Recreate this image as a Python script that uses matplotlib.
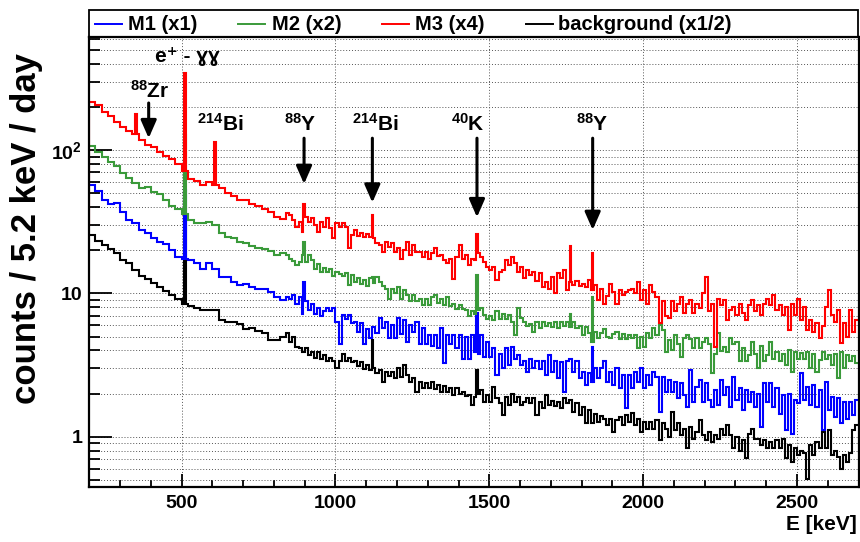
import numpy as np
import matplotlib
matplotlib.use('Agg')
import matplotlib.pyplot as plt
from matplotlib.patches import Rectangle
from matplotlib.lines import Line2D
from matplotlib.ticker import FixedLocator, FixedFormatter, NullFormatter

plt.rcParams['font.family'] = ['Liberation Sans', 'DejaVu Sans']
plt.rcParams['font.weight'] = 'bold'
plt.rcParams['mathtext.default'] = 'regular'

# ---------------- data (counts / 5.2 keV / day, already scaled) ----------------
E_min, E_split, E_max = 200, 840, 2700
w_lo, w_hi = 20, 10          # read-out bin widths below / above E_split (keV)

# 200-840 keV, 20 keV steps
m1_lo = [57, 52, 45, 42, 42.5, 37, 32.5, 31, 27.7, 26.5, 24.2, 22.9, 22.1, 20, 18, 17.5,
         17.1, 16.2, 14.9, 16.2, 14.9, 13.1, 13.1, 12.1, 11.4, 11.7, 11.1, 10.8, 10.8, 10.3, 9.5, 9.0]
m2_lo = [107, 97, 90, 83, 77, 69, 64, 59, 54, 55, 51, 49, 45, 41, 39, 36,
         32.5, 31, 31, 31.6, 30, 26.5, 24.8, 24.2, 22.9, 22.3, 21.4, 20.9, 20.4, 19.8, 18.5, 19]
m3_lo = [217, 206, 185, 173, 158, 144, 136, 129, 117, 108, 105, 97, 91, 87, 80, 72,
         63, 61, 57, 60, 57, 54, 50, 48, 45, 45, 42, 41, 39, 37, 34, 33]
bg_lo = [25.5, 23.3, 21.7, 20.3, 19, 17.1, 16.2, 14.5, 13.3, 12.7, 11.9, 11.0, 10.4, 9.7, 9.2, 8.5,
         8.2, 7.9, 7.7, 7.6, 7.7, 6.5, 6.3, 6.3, 6.1, 5.6, 5.7, 5.5, 5.3, 4.7, 4.7, 5.0]

# 840-2700 keV, 10 keV steps
m1_hi = [9.5, 9.1, 9.7, 8.4, 9.4, 7.2, 8.8, 7.6, 8.5, 7.2,
         7.9, 7.0, 7.5, 7.9, 7.5, 7.9, 6.35, 4.4, 7.1, 6.6,
         7.1, 6.25, 6.35, 5.4, 6.2, 4.45, 5.6, 4.85, 5.8, 5.3,
         6.7, 5.7, 6.35, 4.85, 6.0, 4.85, 6.7, 5.2, 6.5, 4.6,
         6.0, 5.4, 6.35, 4.4, 5.7, 4.45, 5.1, 4.3, 5.1, 4.15,
         5.7, 3.25, 5.1, 4.4, 5.1, 4.15, 5.1, 3.5, 5.0, 3.5,
         5.1, 3.9, 3.8,
         5.1, 3.6, 4.6, 3.6, 4.15, 2.7, 3.8, 3.0, 4.15, 3.15,
         4.2, 3.5, 3.7, 3.15, 3.35, 2.84, 3.5, 3.0, 3.4, 2.95,
         3.35, 2.7, 3.7, 2.84, 3.35, 2.55, 3.3, 2.06, 3.35, 3.5,
         2.84, 3.35, 2.55, 2.84, 2.3, 2.77, 2.42, 3.0, 2.55, 3.0,
         3.35, 2.42, 2.84, 2.3, 3.0, 2.17, 2.7, 1.58, 2.7, 2.17,
         2.84, 2.42, 3.0, 2.17, 2.7, 2.3, 2.84, 2.6, 1.49, 2.6,
         2.06,
         2.5, 2.06, 2.42, 1.85, 2.36, 1.95, 1.62, 2.9, 1.76, 2.23,
         2.5, 1.76, 2.36, 1.8, 1.62, 2.12, 1.66, 2.5, 1.95, 2.23,
         1.62, 2.6, 1.8, 2.17, 1.53, 2.12, 1.76, 2.06, 1.62, 2.0,
         1.17, 2.36, 1.76, 2.36, 1.62, 2.17, 1.45, 1.95, 1.11, 2.0,
         1.05, 1.8, 1.71, 2.77, 1.8, 2.23, 1.66, 2.3, 1.62, 2.12,
         1.11, 2.42, 1.53, 1.9, 1.38, 1.85, 1.24, 1.76, 1.34, 1.76,
         1.42, 1.8]
m2_hi = [18.5, 17.5, 16.9, 15.8, 16.6, 18.5, 16.6, 18.5, 17.1, 14.9,
         16.0, 14.2, 15.1, 14.0, 14.9, 13.2, 14.0, 13.6, 13.2, 13.8,
         11.4, 13.4, 12.1, 12.9, 11.6, 12.5, 11.2, 12.9, 11.9, 13.1,
         12.1, 11.2, 10.8, 9.2, 10.8, 10.1, 11.0, 9.2, 10.5, 9.7,
         8.8, 9.7, 8.8, 9.2, 8.3, 9.1, 8.3, 9.4, 9.7, 8.6,
         9.2, 8.3, 9.4, 8.2, 8.4, 7.8, 8.3, 7.8, 7.6, 7.0,
         7.5, 7.2, 7.6,
         7.9, 7.1, 6.6, 6.9, 6.5, 7.5, 6.6, 7.2, 6.6, 7.1,
         6.35, 5.1, 7.9, 6.7, 6.35, 5.9, 6.1, 5.4, 6.35, 5.7,
         6.35, 5.9, 6.2, 5.8, 6.3, 5.7, 6.35, 5.9, 6.35, 5.8,
         6.3, 5.7, 5.9, 5.1, 5.8, 5.3, 4.6, 5.4, 4.85, 5.3,
         5.6, 5.0, 4.85, 5.2, 5.4, 4.8, 5.2, 4.8, 5.1, 4.85,
         5.1, 4.15, 5.0, 4.25, 5.3, 4.85, 5.7, 5.1, 6.0, 5.55,
         3.9,
         4.7, 4.0, 5.1, 4.45, 3.6, 4.85, 5.1, 4.8, 4.15, 4.85,
         4.15, 4.6, 4.85, 4.4, 2.77, 3.8, 5.3, 3.95, 4.2, 3.9,
         4.85, 4.4, 4.6, 3.4, 4.15, 3.4, 3.7, 4.6, 3.8, 3.0,
         4.3, 3.35, 3.7, 4.6, 3.5, 3.9, 3.35, 3.8, 3.15, 4.0,
         2.84, 3.9, 3.5, 3.85, 3.5, 3.9, 3.0, 3.8, 2.84, 3.45,
         3.9, 3.5, 3.7, 3.15, 3.8, 2.55, 3.9, 3.0, 3.7, 3.35,
         3.65, 3.25]
m3_hi = [36.2, 35.2, 32.5, 29.2, 31.6, 26.9, 34.3, 31.6, 33.4, 30.0,
         26.9, 31.6, 29.2, 33.4, 28.4, 24.2, 30.8, 29.2, 31.0, 29.2,
         20.6, 25.5, 27.6, 25.0, 26.2, 24.8, 25.8, 24.8, 24.2, 22.6,
         21.7, 19.5, 22.9, 21.1, 22.6, 19.5, 20.6, 17.5, 20.0, 22.9,
         18.5, 21.7, 19.5, 19.5, 18.0, 19.5, 17.5, 19.0, 20.6, 18.2,
         18.5, 17.2, 16.2, 17.5, 12.7, 18.0, 21.7, 17.5, 18.5, 15.8,
         17.5, 17.1, 19.0,
         18.0, 16.6, 15.3, 14.5, 15.3, 12.4, 14.2, 14.5, 17.1, 15.8,
         18.0, 16.2, 14.2, 15.3, 12.9, 14.5, 13.4, 14.2, 12.3, 13.8,
         11.1, 12.1, 10.8, 13.1, 10.0, 13.8, 12.9, 14.5, 10.5, 12.1,
         11.4, 12.3, 11.2, 11.6, 11.1, 12.4, 10.5, 11.4, 9.0, 10.8,
         8.5, 9.6, 11.7, 10.3, 8.5, 10.5, 9.7, 10.3, 10.5, 10.8,
         10.0, 12.1, 9.0, 10.5, 8.5, 11.4, 10.3, 9.5, 6.2, 8.8,
         6.9,
         6.7, 8.8, 7.5, 8.5, 9.5, 7.3, 8.5, 9.0, 7.3, 8.5,
         7.9, 10.0, 13.1, 7.5, 8.5, 4.25, 9.2, 8.3, 9.0, 6.5,
         7.7, 8.1, 7.1, 8.5, 7.3, 6.5, 8.3, 9.0, 7.5, 8.3,
         7.1, 8.5, 9.2, 8.3, 9.7, 7.7, 8.3, 7.1, 8.1, 5.55,
         8.5, 7.1, 9.2, 6.5, 8.1, 5.55, 6.5, 5.4, 6.2, 4.85,
         5.9, 8.1, 10.5, 7.1, 6.35, 7.7, 4.5, 6.2, 5.0, 7.7,
         5.4, 6.5]
bg_hi = [5.3, 4.6, 5.0, 4.2, 4.15, 3.9, 4.15, 3.7, 3.9, 3.55,
         3.9, 3.5, 3.7, 3.4, 3.55, 3.35, 3.0, 3.4, 3.8, 3.4,
         3.55, 3.3, 3.4, 3.1, 3.3, 2.95, 3.15, 2.9, 3.0, 2.8,
         2.9, 2.42, 2.84, 2.65, 2.84, 2.55, 3.0, 2.6, 3.15, 2.7,
         2.42, 2.55, 2.06, 2.42, 2.17, 2.38, 2.17, 2.42, 2.14, 2.3,
         2.06, 2.27, 2.06, 2.17, 1.95, 2.17, 2.0, 2.06, 1.92, 1.95,
         1.66, 1.9, 2.0,
         2.12, 1.76, 1.95, 1.76, 2.23, 1.85, 1.71, 1.42, 1.9, 1.66,
         2.0, 1.76, 1.9, 1.66, 1.76, 1.85, 1.71, 1.85, 1.42, 1.76,
         1.58, 1.95, 1.66, 1.78, 1.64, 1.76, 1.58, 1.85, 1.72, 1.8,
         1.49, 1.71, 1.42, 1.62, 1.24, 1.53, 1.24, 1.45, 1.27, 1.4,
         1.34, 1.21, 1.32, 1.08, 1.31, 1.38, 1.21, 1.42, 1.27, 1.47,
         1.21, 1.34, 1.08, 1.27, 1.14, 1.27, 1.14, 1.31, 0.95, 1.24,
         1.14,
         1.0, 1.49, 1.11, 1.24, 1.03, 1.14, 0.83, 1.17, 0.97, 1.08,
         1.31, 1.03, 0.95, 1.08, 0.92, 1.03, 0.97, 1.14, 1.03, 1.21,
         1.03, 0.83, 1.0, 0.79, 0.95, 0.71, 1.05, 1.14, 0.97, 0.97,
         0.87, 0.95, 0.83, 0.92, 0.83, 0.95, 0.83, 0.97, 0.71, 0.87,
         0.67, 0.83, 0.74, 0.79, 0.77, 0.51, 0.87, 0.74, 0.92, 0.83,
         1.08, 0.83, 1.11, 0.74, 0.8, 0.72, 0.60, 0.74, 0.67, 0.77,
         1.11, 1.21]

# gamma lines (keV) and the height of the narrow peak bin in each spectrum (None = no visible peak)
peak_E = [352, 511, 609, 898, 1120, 1460, 1764, 1836]
m1_peaks = [None, 53, None, 12.1, None, 7.25, None, 4.25]
m2_peaks = [None, 127, None, 22.9, 13.1, 13.4, 7.2, 9.5]
m3_peaks = [178, 343, 113, 42, 35, 26, 21.5, 19]
bg_peaks = [None, 36, None, None, 4.7, 2.92, None, None]
peak_width = 5.2

# value of the bin just below 200 keV (gives the drop at the left edge)
lead_in = {'M1': 57, 'M2': 107, 'M3': 30, 'bg': 25.5}

labels = ['M1 (x1)', 'M2 (x2)', 'M3 (x4)', 'background (x1/2)']
colors = ['#0000ff', '#3a9a3a', '#ff0000', '#000000']

# annotations
arrow_E = [393, 898, 1120, 1460, 1836]
arrow_top = [213, 121, 121, 121, 121]
arrow_tip = [121, 58, 43, 34, 27.7]
note_text = ['$^{88}$Zr', '$^{214}$Bi', '$^{88}$Y', '$^{214}$Bi', '$^{40}$K', '$^{88}$Y']
note_E = [398, 625, 886, 1129, 1432, 1835]
note_y = [230, 136.5, 136.5, 136.5, 136.5, 136.5]
annih_text = 'e\u207a - \u0263\u0263'
annih_E, annih_y = 520, 449

edges_lo = np.arange(E_min, E_split + w_lo / 2, w_lo, dtype=float)
edges_hi = np.arange(E_split, E_max + w_hi / 2, w_hi, dtype=float)
base_edges = np.concatenate([[E_min - peak_width], edges_lo, edges_hi[1:]])


def build(lo, hi, peaks, lead):
    cont = np.array([lead] + list(lo) + list(hi), dtype=float)
    assert len(cont) == len(base_edges) - 1, (len(cont), len(base_edges))
    extra = []
    for pe, ph in zip(peak_E, peaks):
        if ph is not None:
            extra += [pe - peak_width / 2, pe + peak_width / 2]
    e = np.unique(np.concatenate([base_edges, extra]))
    mid = 0.5 * (e[:-1] + e[1:])
    idx = np.searchsorted(base_edges, mid) - 1
    v = cont[idx]
    for pe, ph in zip(peak_E, peaks):
        if ph is not None:
            v[np.abs(mid - pe) < peak_width / 2] = ph
    return v, e


W, H = 860, 542
fig = plt.figure(figsize=(W / 100, H / 100), dpi=100)
ax = fig.add_axes([89.3 / W, 1 - 486.7 / H, (858.5 - 89.3) / W, (486.7 - 37.3) / H])

series = [(bg_lo, bg_hi, bg_peaks, lead_in['bg'], colors[3]),
          (m1_lo, m1_hi, m1_peaks, lead_in['M1'], colors[0]),
          (m2_lo, m2_hi, m2_peaks, lead_in['M2'], colors[1]),
          (m3_lo, m3_hi, m3_peaks, lead_in['M3'], colors[2])]
for lo, hi, pk, lead, c in series:
    v, e = build(lo, hi, pk, lead)
    ax.stairs(v, e, baseline=None, color=c, lw=1.5, zorder=3)

ax.set_yscale('log')
ax.set_xlim(E_min, E_max)
ax.set_ylim(0.448, 612)

# ticks
ax.xaxis.set_major_locator(FixedLocator([500, 1000, 1500, 2000, 2500]))
ax.xaxis.set_minor_locator(FixedLocator(list(range(200, 2701, 100))))
ax.set_xticklabels(['500', '1000', '1500', '2000', '2500'])
ax.yaxis.set_major_locator(FixedLocator([1, 10, 100]))
ax.yaxis.set_major_formatter(FixedFormatter(['1', '10', '10$^{2}$']))
minor = [m * 10.0 ** d for d in (-1, 0, 1, 2) for m in range(2, 10)]
minor = [m for m in minor if 0.448 <= m <= 612]
ax.yaxis.set_minor_locator(FixedLocator(minor))
ax.yaxis.set_minor_formatter(NullFormatter())

ax.tick_params(axis='both', which='both', direction='in', width=1.3, labelsize=14)
ax.tick_params(axis='y', which='major', length=16.5, pad=5)
ax.tick_params(axis='y', which='minor', length=8)
ax.tick_params(axis='x', which='major', length=9.4, pad=6)
ax.tick_params(axis='x', which='minor', length=4.7)
for s in ax.spines.values():
    s.set_linewidth(1.6)
    s.set_zorder(5)

grid_kw = dict(color='#555555', lw=0.7, ls=(0, (1, 2)))
ax.grid(True, axis='y', which='both', **grid_kw)
ax.grid(True, axis='x', which='major', **grid_kw)
ax.set_axisbelow(True)

# annotations
for E, top, tip in zip(arrow_E, arrow_top, arrow_tip):
    ax.annotate('', xy=(E, tip), xytext=(E, top),
                arrowprops=dict(arrowstyle='-|>,head_length=0.8,head_width=0.35',
                                mutation_scale=13.5, lw=2.2, color='black',
                                shrinkA=0, shrinkB=0), zorder=6)
for t, E, y in zip(note_text, note_E, note_y):
    ax.text(E, y, t, ha='center', va='baseline', fontsize=15, fontweight='bold', zorder=6)
ax.text(annih_E, annih_y, annih_text, ha='center', va='center', fontsize=15,
        fontweight='bold', family=['Liberation Sans', 'DejaVu Sans'], zorder=6)

# legend box above the frame
fig.add_artist(Rectangle((89.3 / W, 1 - 37.3 / H), (858.3 - 89.3) / W, 27.3 / H,
                         transform=fig.transFigure, fill=False, lw=1.3, color='black'))
leg_line_x = [95, 238, 382, 526]
leg_text_x = [128, 272, 415, 558]
ly = 1 - 24 / H
for lx, tx, lab, c in zip(leg_line_x, leg_text_x, labels, colors):
    fig.add_artist(Line2D([lx / W, (lx + 27) / W], [ly, ly], transform=fig.transFigure,
                          color=c, lw=1.4))
    fig.text(tx / W, ly, lab, ha='left', va='center', fontsize=14.5, fontweight='bold')

# axis titles
fig.text(857 / W, 1 - 524 / H, 'E [keV]', ha='right', va='center', fontsize=15, fontweight='bold')
fig.text(27 / W, 1 - 229 / H, 'counts / 5.2 keV / day', rotation=90, ha='center',
         va='center', fontsize=25, fontweight='bold')

fig.savefig('out.png', dpi=100)
